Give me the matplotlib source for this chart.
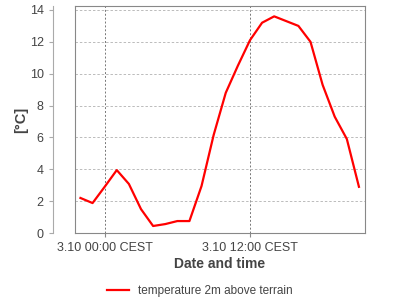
import matplotlib.pyplot as plt
from matplotlib.lines import Line2D

plt.rcParams['font.family'] = ['Liberation Sans', 'DejaVu Sans']

# hours relative to 3.10 00:00 CEST
hours = list(range(-2, 22))
temps = [2.2, 1.88, 2.9, 3.95, 3.08, 1.5, 0.44, 0.56, 0.75, 0.75, 2.95, 6.15,
         8.8, 10.5, 12.1, 13.2, 13.6, 13.3, 13.0, 12.0, 9.3, 7.3, 5.9, 2.9]
tick_hours = [0, 12]
tick_labels = ['3.10 00:00 CEST', '3.10 12:00 CEST']
yticks = [0, 2, 4, 6, 8, 10, 12, 14]

txt = '#444444'

fig = plt.figure(figsize=(4, 3), dpi=100)
ax = fig.add_axes([0.1875, 0.2233, 0.725, 0.7567])

ax.plot(hours, temps, color='#ff0000', linewidth=1.6,
        label='temperature 2m above terrain')

ax.set_xlim(-2.45, 21.5)
ax.set_ylim(0, 14.25)
ax.set_xticks(tick_hours)
ax.set_xticklabels(tick_labels)
ax.set_yticks(yticks)

ax.grid(axis='y', color='#bbbbbb', linestyle=(0, (2.5, 2)), linewidth=0.7)
ax.grid(axis='x', color='#777777', linestyle=(0, (2, 2)), linewidth=0.7)

for s in ['top', 'right', 'bottom']:
    ax.spines[s].set_color('#888888')
ax.spines['left'].set_position(('outward', 16))
ax.spines['left'].set_color('#aaaaaa')
ax.add_line(Line2D([0, 0], [0, 1], transform=ax.transAxes, color='#888888',
                   linewidth=0.8, clip_on=False))

ax.tick_params(axis='y', colors='#aaaaaa', labelcolor=txt, labelsize=9, length=3)
ax.tick_params(axis='x', colors='#888888', labelcolor=txt, labelsize=9, length=3)

ax.set_ylabel('[°C]', fontsize=10.5, fontweight='bold', color=txt, labelpad=1)
ax.set_xlabel('Date and time', fontsize=10, fontweight='bold', color=txt, labelpad=2)

fig.legend(loc='lower center', bbox_to_anchor=(0.5, -0.025), frameon=False,
           fontsize=8.5, labelcolor=txt, handlelength=1.8)

fig.savefig('out.png', dpi=100)
